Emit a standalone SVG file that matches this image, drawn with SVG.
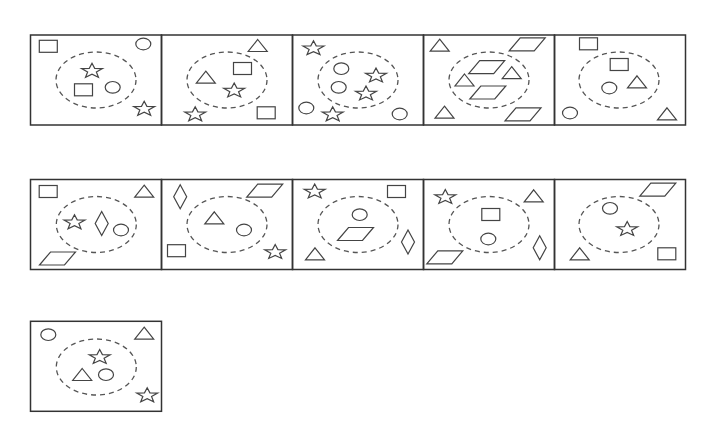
<svg xmlns="http://www.w3.org/2000/svg" xmlns:xlink="http://www.w3.org/1999/xlink" width="719" height="433" viewBox="0 0 719 433">
<style>
.frame{fill:none;stroke:#333;stroke-width:1.5}
.ring{fill:none;stroke:#555;stroke-width:1.3;stroke-dasharray:5 4}
.s{fill:none;stroke:#444;stroke-width:1.2;stroke-linejoin:miter}
</style>
<defs>
<rect id="sq" class="s" x="-9" y="-6" width="18" height="12"/>
<ellipse id="ci" class="s" rx="7.5" ry="5.8"/>
<polygon id="st" class="s" points="0,-7.7 2.7,-2.6 10.46,-2.38 4.37,1 6.47,6.23 0,3.22 -6.47,6.23 -4.37,1 -10.46,-2.38 -2.7,-2.6"/>
<polygon id="tr" class="s" points="0,-6 9.5,6 -9.5,6"/>
<polygon id="pa" class="s" points="-7,-6.5 18,-6.5 7,6.5 -18,6.5"/>
<polygon id="di" class="s" points="0,-12 6.5,0 0,12 -6.5,0"/>
</defs>
<rect width="719" height="433" fill="#fff"/>
<g id="connectors"/>
<g id="p1">
<rect class="frame" x="30.5" y="35" width="131" height="90"/>
<ellipse class="ring" cx="96" cy="80" rx="40" ry="28"/>
<use xlink:href="#sq" x="48.3" y="46.3"/>
<use xlink:href="#ci" x="143.3" y="44"/>
<use xlink:href="#st" x="92" y="71"/>
<use xlink:href="#sq" x="83.5" y="89.8"/>
<use xlink:href="#ci" x="112.7" y="87.3"/>
<use xlink:href="#st" x="144.2" y="109"/>
</g>
<g id="p2">
<rect class="frame" x="161.5" y="35" width="131" height="90"/>
<ellipse class="ring" cx="227" cy="80" rx="40" ry="28"/>
<use xlink:href="#tr" x="257.7" y="45.5"/>
<use xlink:href="#sq" x="242.5" y="68.5"/>
<use xlink:href="#tr" x="205.8" y="77.2"/>
<use xlink:href="#st" x="234.2" y="90.7"/>
<use xlink:href="#st" x="195.2" y="114.5"/>
<use xlink:href="#sq" x="266.2" y="112.8"/>
</g>
<g id="p3">
<rect class="frame" x="292.5" y="35" width="131" height="90"/>
<ellipse class="ring" cx="358" cy="80" rx="40" ry="28"/>
<use xlink:href="#st" x="313.5" y="48.4"/>
<use xlink:href="#ci" x="341.3" y="68.7"/>
<use xlink:href="#st" x="376" y="75.7"/>
<use xlink:href="#ci" x="338.7" y="87.3"/>
<use xlink:href="#st" x="366" y="93.7"/>
<use xlink:href="#ci" x="306.3" y="108"/>
<use xlink:href="#st" x="332.7" y="114.5"/>
<use xlink:href="#ci" x="399.7" y="114"/>
</g>
<g id="p4">
<rect class="frame" x="423.5" y="35" width="131" height="90"/>
<ellipse class="ring" cx="489" cy="80" rx="40" ry="28"/>
<use xlink:href="#tr" x="439.7" y="45.2"/>
<use xlink:href="#pa" x="527.2" y="44.3"/>
<use xlink:href="#pa" x="486.7" y="67.2"/>
<use xlink:href="#tr" x="511.7" y="72.7"/>
<use xlink:href="#tr" x="464.5" y="80"/>
<use xlink:href="#pa" x="487.8" y="92.5"/>
<use xlink:href="#tr" x="444.5" y="112.2"/>
<use xlink:href="#pa" x="523" y="114.3"/>
</g>
<g id="p5">
<rect class="frame" x="554.5" y="35" width="131" height="90"/>
<ellipse class="ring" cx="619" cy="80" rx="40" ry="28"/>
<use xlink:href="#sq" x="588.5" y="43.8"/>
<use xlink:href="#sq" x="619.2" y="64.5"/>
<use xlink:href="#ci" x="609.3" y="88"/>
<use xlink:href="#tr" x="637" y="81.8"/>
<use xlink:href="#ci" x="570" y="113"/>
<use xlink:href="#tr" x="667" y="113.8"/>
</g>
<g id="p6">
<rect class="frame" x="30.5" y="179.5" width="131" height="90"/>
<ellipse class="ring" cx="96.3" cy="224.5" rx="40" ry="28"/>
<use xlink:href="#sq" x="48.2" y="191.5"/>
<use xlink:href="#tr" x="144.2" y="191.2"/>
<use xlink:href="#st" x="74.5" y="222.5"/>
<use xlink:href="#di" x="101.7" y="223.5"/>
<use xlink:href="#ci" x="121" y="230"/>
<use xlink:href="#pa" x="57.5" y="258.5"/>
</g>
<g id="p7">
<rect class="frame" x="161.5" y="179.5" width="131" height="90"/>
<ellipse class="ring" cx="227" cy="224.5" rx="40" ry="28"/>
<use xlink:href="#di" x="180.2" y="196.7"/>
<use xlink:href="#pa" x="264.7" y="190.7"/>
<use xlink:href="#tr" x="214.3" y="217.8"/>
<use xlink:href="#ci" x="244" y="230"/>
<use xlink:href="#sq" x="176.5" y="250.7"/>
<use xlink:href="#st" x="275.2" y="252.2"/>
</g>
<g id="p8">
<rect class="frame" x="292.5" y="179.5" width="131" height="90"/>
<ellipse class="ring" cx="358" cy="224.5" rx="40" ry="28"/>
<use xlink:href="#st" x="314.7" y="191.7"/>
<use xlink:href="#sq" x="396.5" y="191.5"/>
<use xlink:href="#ci" x="359.7" y="214.7"/>
<use xlink:href="#pa" x="355.5" y="234"/>
<use xlink:href="#di" x="408" y="242"/>
<use xlink:href="#tr" x="315" y="253.8"/>
</g>
<g id="p9">
<rect class="frame" x="423.5" y="179.5" width="131" height="90"/>
<ellipse class="ring" cx="489" cy="224.5" rx="40" ry="28"/>
<use xlink:href="#st" x="445.3" y="197.2"/>
<use xlink:href="#tr" x="533.7" y="195.8"/>
<use xlink:href="#sq" x="490.8" y="214.5"/>
<use xlink:href="#ci" x="488.3" y="239"/>
<use xlink:href="#pa" x="444.8" y="257.3"/>
<use xlink:href="#di" x="539.7" y="247.8"/>
</g>
<g id="p10">
<rect class="frame" x="554.5" y="179.5" width="131" height="90"/>
<ellipse class="ring" cx="619" cy="224.5" rx="40" ry="28"/>
<use xlink:href="#pa" x="657.8" y="189.7"/>
<use xlink:href="#ci" x="610" y="208.3"/>
<use xlink:href="#st" x="627.2" y="229.2"/>
<use xlink:href="#tr" x="579.7" y="253.8"/>
<use xlink:href="#sq" x="666.8" y="253.8"/>
</g>
<g id="p11">
<rect class="frame" x="30.5" y="321.3" width="131" height="90"/>
<ellipse class="ring" cx="96.3" cy="367" rx="40" ry="28"/>
<use xlink:href="#ci" x="48.3" y="334.7"/>
<use xlink:href="#tr" x="144.2" y="333.2"/>
<use xlink:href="#st" x="99.7" y="357.2"/>
<use xlink:href="#tr" x="82.2" y="374.5"/>
<use xlink:href="#ci" x="106" y="374.7"/>
<use xlink:href="#st" x="147.2" y="395.5"/>
</g>
</svg>
